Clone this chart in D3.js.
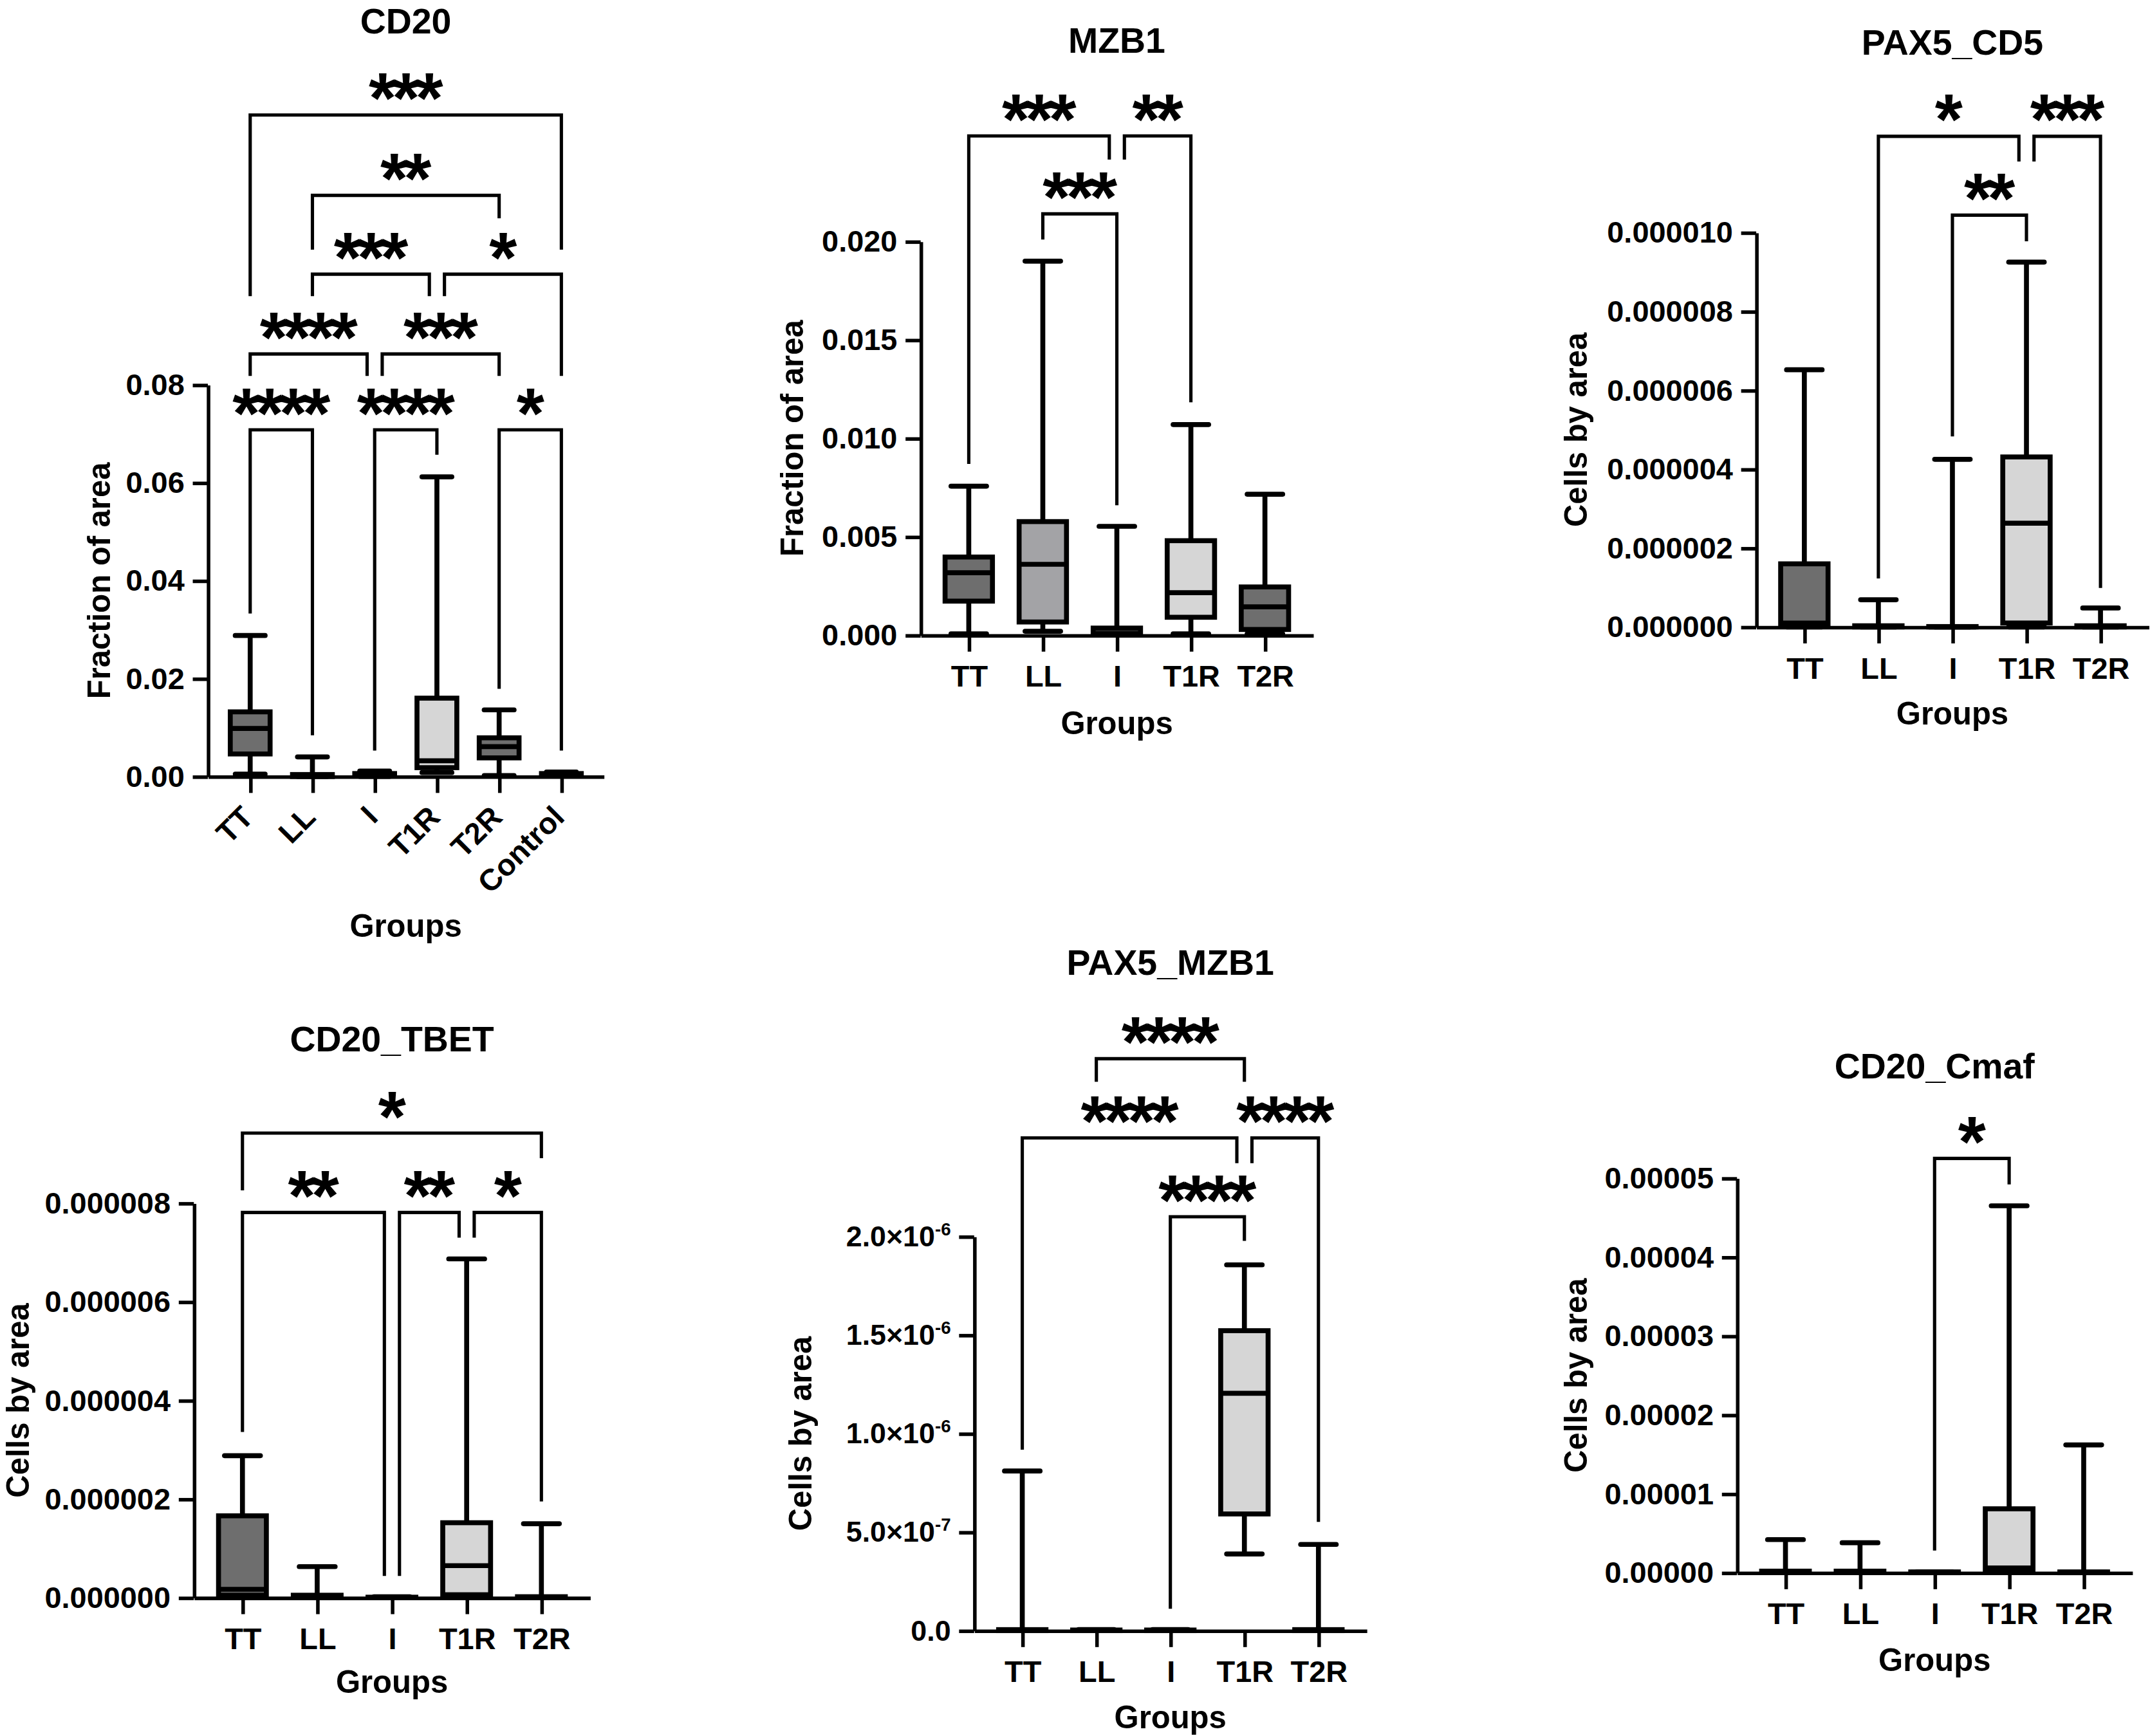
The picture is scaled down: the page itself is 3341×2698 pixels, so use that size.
<!DOCTYPE html>
<html><head><meta charset="utf-8">
<script src="https://cdn.jsdelivr.net/npm/d3@7"></script>
<style>html,body{margin:0;padding:0;background:#fff;} svg{display:block;background:#fff}</style>
</head><body>
<svg id="chart"></svg>
<script>
// ================= DATA =================
const groups6 = ["TT", "LL", "I", "T1R", "T2R", "Control"];
const groups5 = ["TT", "LL", "I", "T1R", "T2R"];
const groupFill = { TT: "#6e6e6e", LL: "#a3a3a6", I: "#ffffff", T1R: "#d6d6d6", T2R: "#6e6e6e", Control: "#6e6e6e" };

// box statistics per group: [min, Q1, median, Q3, max]
const cd20Stats = [
  [0.0005, 0.0046, 0.0098, 0.0132, 0.0288],
  [0.0000, 0.0000, 0.0002, 0.0004, 0.0040],
  [0.0000, 0.0001, 0.0003, 0.0006, 0.0011],
  [0.0008, 0.0018, 0.0032, 0.0160, 0.0612],
  [0.0002, 0.0038, 0.0061, 0.0079, 0.0136],
  [0.0001, 0.0002, 0.0004, 0.0006, 0.0009]
];
const mzb1Stats = [
  [0.00007, 0.00173, 0.00317, 0.00397, 0.00757],
  [0.00020, 0.00067, 0.00360, 0.00577, 0.01900],
  [0.00000, 0.00002, 0.00010, 0.00036, 0.00553],
  [0.00007, 0.00091, 0.00216, 0.00480, 0.01070],
  [0.00007, 0.00029, 0.00144, 0.00245, 0.00716]
];
const pax5cd5Stats = [
  [0, 0.02e-6, 0.10e-6, 1.60e-6, 6.52e-6],
  [0, 0, 0.01e-6, 0.03e-6, 0.69e-6],
  [0, 0, 0, 0.01e-6, 4.25e-6],
  [0, 0.10e-6, 2.63e-6, 4.31e-6, 9.25e-6],
  [0, 0, 0.01e-6, 0.03e-6, 0.48e-6]
];
const cd20tbetStats = [
  [0, 0.05e-6, 0.17e-6, 1.66e-6, 2.88e-6],
  [0, 0, 0.02e-6, 0.05e-6, 0.63e-6],
  [0, 0, 0, 0.01e-6, 0.02e-6],
  [0, 0.06e-6, 0.65e-6, 1.52e-6, 6.87e-6],
  [0, 0, 0.01e-6, 0.02e-6, 1.50e-6]
];
const pax5mzb1Stats = [
  [0, 0, 0.002e-6, 0.005e-6, 0.810e-6],
  [0, 0, 0, 0.003e-6, 0.005e-6],
  [0, 0, 0, 0.003e-6, 0.005e-6],
  [0.389e-6, 0.592e-6, 1.204e-6, 1.522e-6, 1.856e-6],
  [0, 0, 0.002e-6, 0.005e-6, 0.4375e-6]
];
const cd20cmafStats = [
  [0, 0.05e-6, 0.10e-6, 0.20e-6, 4.2e-6],
  [0, 0.05e-6, 0.10e-6, 0.20e-6, 3.8e-6],
  [0, 0, 0.05e-6, 0.10e-6, 0.10e-6],
  [0, 0.30e-6, 0.60e-6, 8.10e-6, 46.5e-6],
  [0, 0, 0.05e-6, 0.10e-6, 16.2e-6]
];

// significance brackets: [group A, group B, bar value, leg A end value, leg B end value, label]
const cd20Brackets = [
  ["TT", "Control", 0.1351, 0.0981, 0.1076, "***"],
  ["LL", "T2R", 0.1187, 0.1076, 0.1140, "**"],
  ["LL", "T1R", 0.1026, 0.0981, 0.0981, "***"],
  ["T1R", "Control", 0.1026, 0.0981, 0.0818, "*"],
  ["TT", "I", 0.0863, 0.0818, 0.0818, "****"],
  ["I", "T2R", 0.0863, 0.0818, 0.0818, "***"],
  ["TT", "LL", 0.0708, 0.0333, 0.0084, "****"],
  ["I", "T1R", 0.0708, 0.0053, 0.0657, "****"],
  ["T2R", "Control", 0.0708, 0.0179, 0.0053, "*"]
];
const mzb1Brackets = [
  ["TT", "I", 0.02536, 0.0087, 0.02416, "***"],
  ["I", "T1R", 0.02536, 0.02416, 0.01183, "**"],
  ["LL", "I", 0.0214, 0.0201, 0.0066, "***"]
];
const pax5cd5Brackets = [
  ["LL", "T1R", 12.44e-6, 1.23e-6, 11.8e-6, "*"],
  ["T1R", "T2R", 12.44e-6, 11.8e-6, 0.99e-6, "***"],
  ["I", "T1R", 10.44e-6, 4.83e-6, 9.78e-6, "**"]
];
const cd20tbetBrackets = [
  ["TT", "T2R", 9.42e-6, 8.26e-6, 8.91e-6, "*"],
  ["TT", "I", 7.81e-6, 3.36e-6, 0.44e-6, "**"],
  ["I", "T1R", 7.81e-6, 0.44e-6, 7.30e-6, "**"],
  ["T1R", "T2R", 7.81e-6, 7.30e-6, 1.95e-6, "*"]
];
const pax5mzb1Brackets = [
  ["LL", "T1R", 2.902e-6, 2.785e-6, 2.785e-6, "****"],
  ["TT", "T1R", 2.5e-6, 0.918e-6, 2.372e-6, "****"],
  ["T1R", "T2R", 2.5e-6, 2.372e-6, 0.552e-6, "****"],
  ["I", "T1R", 2.1e-6, 0.111e-6, 1.978e-6, "****"]
];
const cd20cmafBrackets = [
  ["I", "T1R", 52.5e-6, 2.82e-6, 49.2e-6, "*"]
];

// y tick values
const cd20Ticks = [0, 0.02, 0.04, 0.06, 0.08];
const mzb1Ticks = [0, 0.005, 0.010, 0.015, 0.020];
const pax5cd5Ticks = [0, 2e-6, 4e-6, 6e-6, 8e-6, 10e-6];
const cd20tbetTicks = [0, 2e-6, 4e-6, 6e-6, 8e-6];
const pax5mzb1Ticks = [0, 5e-7, 1e-6, 1.5e-6, 2e-6];
const cd20cmafTicks = [0, 1e-5, 2e-5, 3e-5, 4e-5, 5e-5];
// tick labels for the scientific-notation axis: [mantissa text, exponent]
const pax5mzb1TickLabels = [["0.0", ""], ["5.0×10", "-7"], ["1.0×10", "-6"], ["1.5×10", "-6"], ["2.0×10", "-6"]];

// ================= LAYOUT / STYLE =================
const FONT = "'Liberation Sans', Arial, Helvetica, sans-serif";
const panels = [
  { title: "CD20", yLabel: "Fraction of area", groups: groups6, stats: cd20Stats, brackets: cd20Brackets,
    ticks: cd20Ticks, fmt: d3.format(".2f"),
    L: { x0: 151.5, x1: 440, y0: 566, y1: 280.5, pad: 0.68, titleY: 24.5, titleSize: 26, yTitleX: 72, groupsY: 683, rotate: true } },
  { title: "MZB1", yLabel: "Fraction of area", groups: groups5, stats: mzb1Stats, brackets: mzb1Brackets,
    ticks: mzb1Ticks, fmt: d3.format(".3f"),
    L: { x0: 671, x1: 957, y0: 463, y1: 176, pad: 0.65, titleY: 38.5, titleSize: 26, yTitleX: 577, groupsY: 535 } },
  { title: "PAX5_CD5", yLabel: "Cells by area", groups: groups5, stats: pax5cd5Stats, brackets: pax5cd5Brackets,
    ticks: pax5cd5Ticks, fmt: d3.format(".6f"),
    L: { x0: 1280, x1: 1566, y0: 457, y1: 169.5, pad: 0.65, titleY: 40, titleSize: 26, yTitleX: 1148.5, groupsY: 528 } },
  { title: "CD20_TBET", yLabel: "Cells by area", groups: groups5, stats: cd20tbetStats, brackets: cd20tbetBrackets,
    ticks: cd20tbetTicks, fmt: d3.format(".6f"),
    L: { x0: 141.3, x1: 430, y0: 1164.6, y1: 877, pad: 0.65, titleY: 766.5, titleSize: 26, yTitleX: 12.6, groupsY: 1234 } },
  { title: "PAX5_MZB1", yLabel: "Cells by area", groups: groups5, stats: pax5mzb1Stats, brackets: pax5mzb1Brackets,
    ticks: pax5mzb1Ticks, fmt: null, labels: pax5mzb1TickLabels,
    L: { x0: 710, x1: 996, y0: 1188.6, y1: 901.3, pad: 0.65, titleY: 710.5, titleSize: 26, yTitleX: 583, groupsY: 1260 } },
  { title: "CD20_Cmaf", yLabel: "Cells by area", groups: groups5, stats: cd20cmafStats, brackets: cd20cmafBrackets,
    ticks: cd20cmafTicks, fmt: d3.format(".5f"),
    L: { x0: 1266, x1: 1554, y0: 1146.4, y1: 858.8, pad: 0.65, titleY: 786, titleSize: 26, yTitleX: 1148.5, groupsY: 1218 } }
];

const W = 1567, H = 2698 * 1567 / 3341;
const svg = d3.select("#chart").attr("width", 3341).attr("height", 2698)
  .attr("viewBox", `0 0 ${W} ${H}`);
svg.append("rect").attr("width", W).attr("height", H).attr("fill", "#fff");

const AXIS_W = 2.6, BOX_W = 3.6, BR_W = 2.4, TICK_FS = 22, STAR_FS = 52;

panels.forEach(p => {
  const L = p.L;
  const g = svg.append("g");
  const x = d3.scalePoint().domain(p.groups).range([L.x0, L.x1]).padding(L.pad);
  const yMax = p.ticks[p.ticks.length - 1];
  const y = d3.scaleLinear().domain([0, yMax]).range([L.y0, L.y1]);
  const step = x.step();

  // ---- y axis ----
  const yAxis = d3.axisLeft(y).tickValues(p.ticks).tickSize(11).tickSizeOuter(0).tickPadding(6);
  if (p.fmt) yAxis.tickFormat(p.fmt);
  const ya = g.append("g").attr("transform", `translate(${L.x0},0)`).call(yAxis);
  ya.select(".domain").attr("stroke", "#000").attr("stroke-width", AXIS_W);
  ya.selectAll(".tick line").attr("stroke", "#000").attr("stroke-width", AXIS_W);
  ya.selectAll(".tick text").attr("font-family", FONT).attr("font-weight", "bold")
    .attr("font-size", TICK_FS).attr("fill", "#000");
  if (p.labels) {
    ya.selectAll(".tick text").attr("font-size", 21).each(function (d, i) {
      const t = d3.select(this);
      const lab = p.labels[i];
      t.text(null);
      t.append("tspan").text(lab[0]);
      if (lab[1]) t.append("tspan").attr("font-size", 13).attr("dy", -8).text(lab[1]);
    });
  }

  // ---- x axis ----
  const xAxis = d3.axisBottom(x).tickSize(12).tickSizeOuter(0).tickPadding(10);
  const xa = g.append("g").attr("transform", `translate(0,${L.y0})`).call(xAxis);
  xa.select(".domain").attr("stroke", "#000").attr("stroke-width", AXIS_W);
  xa.selectAll(".tick line").attr("stroke", "#000").attr("stroke-width", AXIS_W);
  const xt = xa.selectAll(".tick text").attr("font-family", FONT).attr("font-weight", "bold")
    .attr("font-size", TICK_FS).attr("fill", "#000");
  if (L.rotate) {
    xt.attr("y", null).attr("dy", null).attr("text-anchor", "end")
      .attr("transform", "translate(3,31) rotate(-45)");
  }

  // ---- boxes ----
  const bw = step * 0.64, cw = step * 0.48;
  const bg = g.append("g");
  p.groups.forEach((gr, i) => {
    const [mn, q1, md, q3, mx] = p.stats[i];
    const cx = x(gr);
    const sg = bg.append("g").attr("stroke", "#000").attr("stroke-width", BOX_W);
    sg.append("line").attr("x1", cx).attr("x2", cx).attr("y1", y(q3)).attr("y2", y(mx));
    sg.append("line").attr("x1", cx).attr("x2", cx).attr("y1", y(mn)).attr("y2", y(q1));
    sg.append("line").attr("x1", cx - cw / 2).attr("x2", cx + cw / 2).attr("y1", y(mx)).attr("y2", y(mx)).attr("stroke-linecap", "round");
    sg.append("line").attr("x1", cx - cw / 2).attr("x2", cx + cw / 2).attr("y1", y(mn)).attr("y2", y(mn)).attr("stroke-linecap", "round");
    sg.append("rect").attr("x", cx - bw / 2).attr("y", y(q3)).attr("width", bw)
      .attr("height", Math.max(0.01, y(q1) - y(q3))).attr("fill", groupFill[gr]);
    sg.append("line").attr("x1", cx - bw / 2).attr("x2", cx + bw / 2).attr("y1", y(md)).attr("y2", y(md));
  });

  // ---- significance brackets ----
  const off = 5.5;
  const brg = g.append("g");
  p.brackets.forEach(br => {
    const [a, b, yv, yA, yB, label] = br;
    const same = p.brackets.filter(o => o !== br && o[2] === yv);
    let xA = x(a), xB = x(b);
    if (same.some(o => o[1] === a)) xA += off;
    if (same.some(o => o[0] === b)) xB -= off;
    brg.append("path")
      .attr("d", `M${xA},${y(yA)}V${y(yv)}H${xB}V${y(yB)}`)
      .attr("fill", "none").attr("stroke", "#000").attr("stroke-width", BR_W)
      .attr("stroke-linejoin", "miter");
    brg.append("text")
      .attr("x", (xA + xB) / 2 - 1.5).attr("y", y(yv) - 24 + 0.575 * STAR_FS)
      .attr("text-anchor", "middle").attr("font-family", FONT).attr("font-weight", "bold")
      .attr("font-size", STAR_FS).attr("letter-spacing", -3.2).attr("fill", "#000")
      .text(label);
  });

  // ---- titles ----
  const cxMid = (L.x0 + L.x1) / 2;
  g.append("text").attr("x", cxMid).attr("y", L.titleY).attr("text-anchor", "middle")
    .attr("font-family", FONT).attr("font-weight", "bold").attr("font-size", L.titleSize)
    .attr("fill", "#000").text(p.title);
  g.append("text").attr("x", cxMid).attr("y", L.groupsY).attr("text-anchor", "middle")
    .attr("font-family", FONT).attr("font-weight", "bold").attr("font-size", 23)
    .attr("fill", "#000").text("Groups");
  g.append("text").attr("transform", `translate(${L.yTitleX},${(L.y0 + L.y1) / 2}) rotate(-90)`)
    .attr("dy", "0.36em").attr("text-anchor", "middle")
    .attr("font-family", FONT).attr("font-weight", "bold").attr("font-size", 23)
    .attr("fill", "#000").text(p.yLabel);
});
</script>
</body></html>
